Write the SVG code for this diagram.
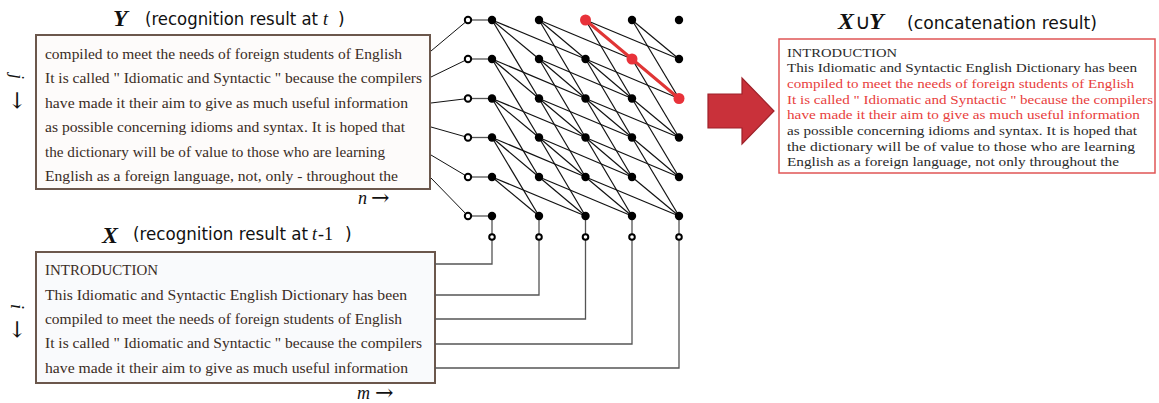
<svg xmlns="http://www.w3.org/2000/svg" width="1159" height="403" viewBox="0 0 1159 403">
<style>
.box{fill:#fdfbfa;stroke:#6b574c;stroke-width:2}
.bt{font-family:"Liberation Serif",serif;font-size:14.5px;fill:#3a2c24}
.rt{font-family:"Liberation Serif",serif;font-size:13.5px;fill:#2a2a2a}
.rr{fill:#e8403c}
.ttl{font-family:"DejaVu Sans",sans-serif;font-size:17px;fill:#111}
.var{font-family:"Liberation Serif",serif;font-style:italic;font-weight:bold;font-size:24px;fill:#111}
.it{font-family:"Liberation Serif",serif;font-style:italic;font-size:18px;fill:#111}
.sr{font-family:"Liberation Serif",serif;font-size:18px;fill:#111}
.ar{font-family:"DejaVu Serif",serif;font-size:22px;fill:#111}
.e{stroke:#111;stroke-width:1.2;fill:none}
.c{stroke:#555;stroke-width:1.3;fill:none}
.k{stroke:#111;stroke-width:1;fill:none}
.red{stroke:#e03535;stroke-width:3;fill:none}
.n{fill:#000}
.rn{fill:#e8323a}
.o{fill:#fff;stroke:#000;stroke-width:2}
</style>

<!-- titles -->
<g id="title-y">
<text class="var" x="113" y="26">Y</text>
<text class="ttl" x="145" y="25" textLength="173" lengthAdjust="spacingAndGlyphs">(recognition result at</text>
<text class="it" x="323" y="25">t</text>
<text class="ttl" x="338" y="25">)</text>
</g>
<g id="title-x">
<text class="var" x="102" y="243">X</text>
<text class="ttl" x="133" y="240" textLength="175" lengthAdjust="spacingAndGlyphs">(recognition result at</text>
<text class="it" x="312" y="240">t</text>
<text class="sr" x="318" y="240">-1</text>
<text class="ttl" x="345" y="240">)</text>
</g>
<g id="title-xy">
<text class="var" x="838" y="29">X</text>
<text font-family="DejaVu Sans,sans-serif" font-size="21" x="855" y="29" fill="#111">∪</text>
<text class="var" x="869" y="29">Y</text>
<text class="ttl" x="907" y="29" font-size="19" textLength="190" lengthAdjust="spacingAndGlyphs">(concatenation result)</text>
</g>

<!-- axis labels -->
<g id="axis-j">
<text class="it" transform="translate(11,74) rotate(90)">j</text>
<text class="ar" transform="translate(10,91) rotate(90)">→</text>
</g>
<g id="axis-i">
<text class="it" transform="translate(11,304) rotate(90)">i</text>
<text class="ar" transform="translate(10,320) rotate(90)">→</text>
</g>
<g id="axis-n">
<text class="it" x="358" y="204">n</text>
<text class="ar" x="371" y="205">→</text>
</g>
<g id="axis-m">
<text class="it" x="357" y="399">m</text>
<text class="ar" x="375" y="400">→</text>
</g>

<!-- Y box -->
<g id="y-box">
<rect class="box" x="36" y="35" width="394" height="154"/>
<text class="bt" x="45" y="59" textLength="357" lengthAdjust="spacingAndGlyphs">compiled to meet the needs of foreign students of English</text>
<text class="bt" x="45" y="83" textLength="377" lengthAdjust="spacingAndGlyphs">It is called " Idiomatic and Syntactic " because the compilers</text>
<text class="bt" x="45" y="108" textLength="363" lengthAdjust="spacingAndGlyphs">have made it their aim to give as much useful information</text>
<text class="bt" x="45" y="132" textLength="360" lengthAdjust="spacingAndGlyphs">as possible concerning idioms and syntax. It is hoped that</text>
<text class="bt" x="45" y="157" textLength="340" lengthAdjust="spacingAndGlyphs">the dictionary will be of value to those who are learning</text>
<text class="bt" x="45" y="181" textLength="353" lengthAdjust="spacingAndGlyphs">English as a foreign language, not, only - throughout the</text>
</g>

<!-- X box -->
<g id="x-box">
<rect class="box" x="36" y="252" width="399" height="131" style="fill:#f9fafc"/>
<text class="bt" x="45" y="275" textLength="113" lengthAdjust="spacingAndGlyphs">INTRODUCTION</text>
<text class="bt" x="45" y="300" textLength="362" lengthAdjust="spacingAndGlyphs">This Idiomatic and Syntactic English Dictionary has been</text>
<text class="bt" x="45" y="324" textLength="357" lengthAdjust="spacingAndGlyphs">compiled to meet the needs of foreign students of English</text>
<text class="bt" x="45" y="348" textLength="377" lengthAdjust="spacingAndGlyphs">It is called " Idiomatic and Syntactic " because the compilers</text>
<text class="bt" x="45" y="373" textLength="363" lengthAdjust="spacingAndGlyphs">have made it their aim to give as much useful information</text>
</g>

<!-- result box -->
<g id="result-box">
<rect x="779" y="39" width="376" height="134" fill="#fff" stroke="#e05555" stroke-width="1.5"/>
<text class="rt" x="787" y="56.5" textLength="110" lengthAdjust="spacingAndGlyphs">INTRODUCTION</text>
<text class="rt" x="787" y="72.2" textLength="350" lengthAdjust="spacingAndGlyphs">This Idiomatic and Syntactic English Dictionary has been</text>
<text class="rt rr" x="787" y="87.9" textLength="347" lengthAdjust="spacingAndGlyphs">compiled to meet the needs of foreign students of English</text>
<text class="rt rr" x="787" y="103.6" textLength="366" lengthAdjust="spacingAndGlyphs">It is called " Idiomatic and Syntactic " because the compilers</text>
<text class="rt rr" x="787" y="119.3" textLength="353" lengthAdjust="spacingAndGlyphs">have made it their aim to give as much useful information</text>
<text class="rt" x="787" y="135" textLength="350" lengthAdjust="spacingAndGlyphs">as possible concerning idioms and syntax. It is hoped that</text>
<text class="rt" x="787" y="150.7" textLength="348" lengthAdjust="spacingAndGlyphs">the dictionary will be of value to those who are learning</text>
<text class="rt" x="787" y="166.4" textLength="332" lengthAdjust="spacingAndGlyphs">English as a foreign language, not only throughout the</text>
</g>

<!-- big arrow -->
<g id="big-arrow">
<polygon points="708,94 742,94 742,78 774,111 742,144 742,128 708,128" fill="#c9313a" stroke="#9e2129" stroke-width="1.2"/>
</g>

<!-- connectors -->
<g id="connectors">
<line class="k" x1="431" y1="51" x2="468" y2="20"/>
<line class="k" x1="431" y1="77" x2="468" y2="59"/>
<line class="k" x1="431" y1="103" x2="468" y2="98.5"/>
<line class="k" x1="431" y1="127" x2="468" y2="137.5"/>
<line class="k" x1="431" y1="155" x2="468" y2="177"/>
<line class="k" x1="431" y1="178" x2="468" y2="216"/>
<line class="c" x1="468" y1="20" x2="492" y2="20"/>
<line class="c" x1="468" y1="59" x2="492" y2="59"/>
<line class="c" x1="468" y1="98.5" x2="492" y2="98.5"/>
<line class="c" x1="468" y1="137.5" x2="492" y2="137.5"/>
<line class="c" x1="468" y1="177" x2="492" y2="177"/>
<line class="c" x1="468" y1="216" x2="492" y2="216"/>
<path class="c" d="M492,216 V264 H435"/>
<path class="c" d="M539,216 V295 H435"/>
<path class="c" d="M585.5,216 V319 H435"/>
<path class="c" d="M632,216 V344 H435"/>
<path class="c" d="M679,216 V368 H435"/>
<line class="e" x1="492" y1="20" x2="539" y2="59"/>
<line class="e" x1="492" y1="20" x2="585.5" y2="59"/>
<line class="e" x1="492" y1="20" x2="539" y2="98.5"/>
<line class="e" x1="539" y1="20" x2="585.5" y2="59"/>
<line class="e" x1="539" y1="20" x2="632" y2="59"/>
<line class="e" x1="539" y1="20" x2="585.5" y2="98.5"/>
<line class="e" x1="585.5" y1="20" x2="679" y2="59"/>
<line class="e" x1="585.5" y1="20" x2="632" y2="98.5"/>
<line class="e" x1="632" y1="20" x2="679" y2="59"/>
<line class="e" x1="632" y1="20" x2="679" y2="98.5"/>
<line class="e" x1="492" y1="59" x2="539" y2="98.5"/>
<line class="e" x1="492" y1="59" x2="585.5" y2="98.5"/>
<line class="e" x1="492" y1="59" x2="539" y2="137.5"/>
<line class="e" x1="539" y1="59" x2="585.5" y2="98.5"/>
<line class="e" x1="539" y1="59" x2="632" y2="98.5"/>
<line class="e" x1="539" y1="59" x2="585.5" y2="137.5"/>
<line class="e" x1="585.5" y1="59" x2="632" y2="98.5"/>
<line class="e" x1="585.5" y1="59" x2="679" y2="98.5"/>
<line class="e" x1="585.5" y1="59" x2="632" y2="137.5"/>
<line class="e" x1="632" y1="59" x2="679" y2="137.5"/>
<line class="e" x1="492" y1="98.5" x2="539" y2="137.5"/>
<line class="e" x1="492" y1="98.5" x2="585.5" y2="137.5"/>
<line class="e" x1="492" y1="98.5" x2="539" y2="177"/>
<line class="e" x1="539" y1="98.5" x2="585.5" y2="137.5"/>
<line class="e" x1="539" y1="98.5" x2="632" y2="137.5"/>
<line class="e" x1="539" y1="98.5" x2="585.5" y2="177"/>
<line class="e" x1="585.5" y1="98.5" x2="632" y2="137.5"/>
<line class="e" x1="585.5" y1="98.5" x2="679" y2="137.5"/>
<line class="e" x1="585.5" y1="98.5" x2="632" y2="177"/>
<line class="e" x1="632" y1="98.5" x2="679" y2="137.5"/>
<line class="e" x1="632" y1="98.5" x2="679" y2="177"/>
<line class="e" x1="492" y1="137.5" x2="539" y2="177"/>
<line class="e" x1="492" y1="137.5" x2="585.5" y2="177"/>
<line class="e" x1="492" y1="137.5" x2="539" y2="216"/>
<line class="e" x1="539" y1="137.5" x2="585.5" y2="177"/>
<line class="e" x1="539" y1="137.5" x2="632" y2="177"/>
<line class="e" x1="539" y1="137.5" x2="585.5" y2="216"/>
<line class="e" x1="585.5" y1="137.5" x2="632" y2="177"/>
<line class="e" x1="585.5" y1="137.5" x2="679" y2="177"/>
<line class="e" x1="585.5" y1="137.5" x2="632" y2="216"/>
<line class="e" x1="632" y1="137.5" x2="679" y2="177"/>
<line class="e" x1="632" y1="137.5" x2="679" y2="216"/>
<line class="e" x1="492" y1="177" x2="539" y2="216"/>
<line class="e" x1="492" y1="177" x2="585.5" y2="216"/>
<line class="e" x1="539" y1="177" x2="585.5" y2="216"/>
<line class="e" x1="539" y1="177" x2="632" y2="216"/>
<line class="e" x1="585.5" y1="177" x2="632" y2="216"/>
<line class="e" x1="585.5" y1="177" x2="679" y2="216"/>
<line class="e" x1="632" y1="177" x2="679" y2="216"/>
<polyline class="red" points="585.5,20 632,59 679,98.5"/>
</g>

<!-- grid nodes -->
<g id="grid-nodes">
<circle id="oj0" class="o" cx="468" cy="20" r="3.2"/>
<circle id="oj1" class="o" cx="468" cy="59" r="3.2"/>
<circle id="oj2" class="o" cx="468" cy="98.5" r="3.2"/>
<circle id="oj3" class="o" cx="468" cy="137.5" r="3.2"/>
<circle id="oj4" class="o" cx="468" cy="177" r="3.2"/>
<circle id="oj5" class="o" cx="468" cy="216" r="3.2"/>
<circle id="oi0" class="o" cx="492" cy="237" r="2.8"/>
<circle id="oi1" class="o" cx="539" cy="237" r="2.8"/>
<circle id="oi2" class="o" cx="585.5" cy="237" r="2.8"/>
<circle id="oi3" class="o" cx="632" cy="237" r="2.8"/>
<circle id="oi4" class="o" cx="679" cy="237" r="2.8"/>
<circle id="n00" class="n" cx="492" cy="20" r="4.2"/>
<circle id="n01" class="n" cx="539" cy="20" r="4.2"/>
<circle id="n02" class="rn" cx="585.5" cy="20" r="5.5"/>
<circle id="n03" class="n" cx="632" cy="20" r="4.2"/>
<circle id="n04" class="n" cx="679" cy="20" r="4.2"/>
<circle id="n10" class="n" cx="492" cy="59" r="4.2"/>
<circle id="n11" class="n" cx="539" cy="59" r="4.2"/>
<circle id="n12" class="n" cx="585.5" cy="59" r="4.2"/>
<circle id="n13" class="rn" cx="632" cy="59" r="5.5"/>
<circle id="n14" class="n" cx="679" cy="59" r="4.2"/>
<circle id="n20" class="n" cx="492" cy="98.5" r="4.2"/>
<circle id="n21" class="n" cx="539" cy="98.5" r="4.2"/>
<circle id="n22" class="n" cx="585.5" cy="98.5" r="4.2"/>
<circle id="n23" class="n" cx="632" cy="98.5" r="4.2"/>
<circle id="n24" class="rn" cx="679" cy="98.5" r="5.5"/>
<circle id="n30" class="n" cx="492" cy="137.5" r="4.2"/>
<circle id="n31" class="n" cx="539" cy="137.5" r="4.2"/>
<circle id="n32" class="n" cx="585.5" cy="137.5" r="4.2"/>
<circle id="n33" class="n" cx="632" cy="137.5" r="4.2"/>
<circle id="n34" class="n" cx="679" cy="137.5" r="4.2"/>
<circle id="n40" class="n" cx="492" cy="177" r="4.2"/>
<circle id="n41" class="n" cx="539" cy="177" r="4.2"/>
<circle id="n42" class="n" cx="585.5" cy="177" r="4.2"/>
<circle id="n43" class="n" cx="632" cy="177" r="4.2"/>
<circle id="n44" class="n" cx="679" cy="177" r="4.2"/>
<circle id="n50" class="n" cx="492" cy="216" r="4.2"/>
<circle id="n51" class="n" cx="539" cy="216" r="4.2"/>
<circle id="n52" class="n" cx="585.5" cy="216" r="4.2"/>
<circle id="n53" class="n" cx="632" cy="216" r="4.2"/>
<circle id="n54" class="n" cx="679" cy="216" r="4.2"/>
</g>
</svg>
